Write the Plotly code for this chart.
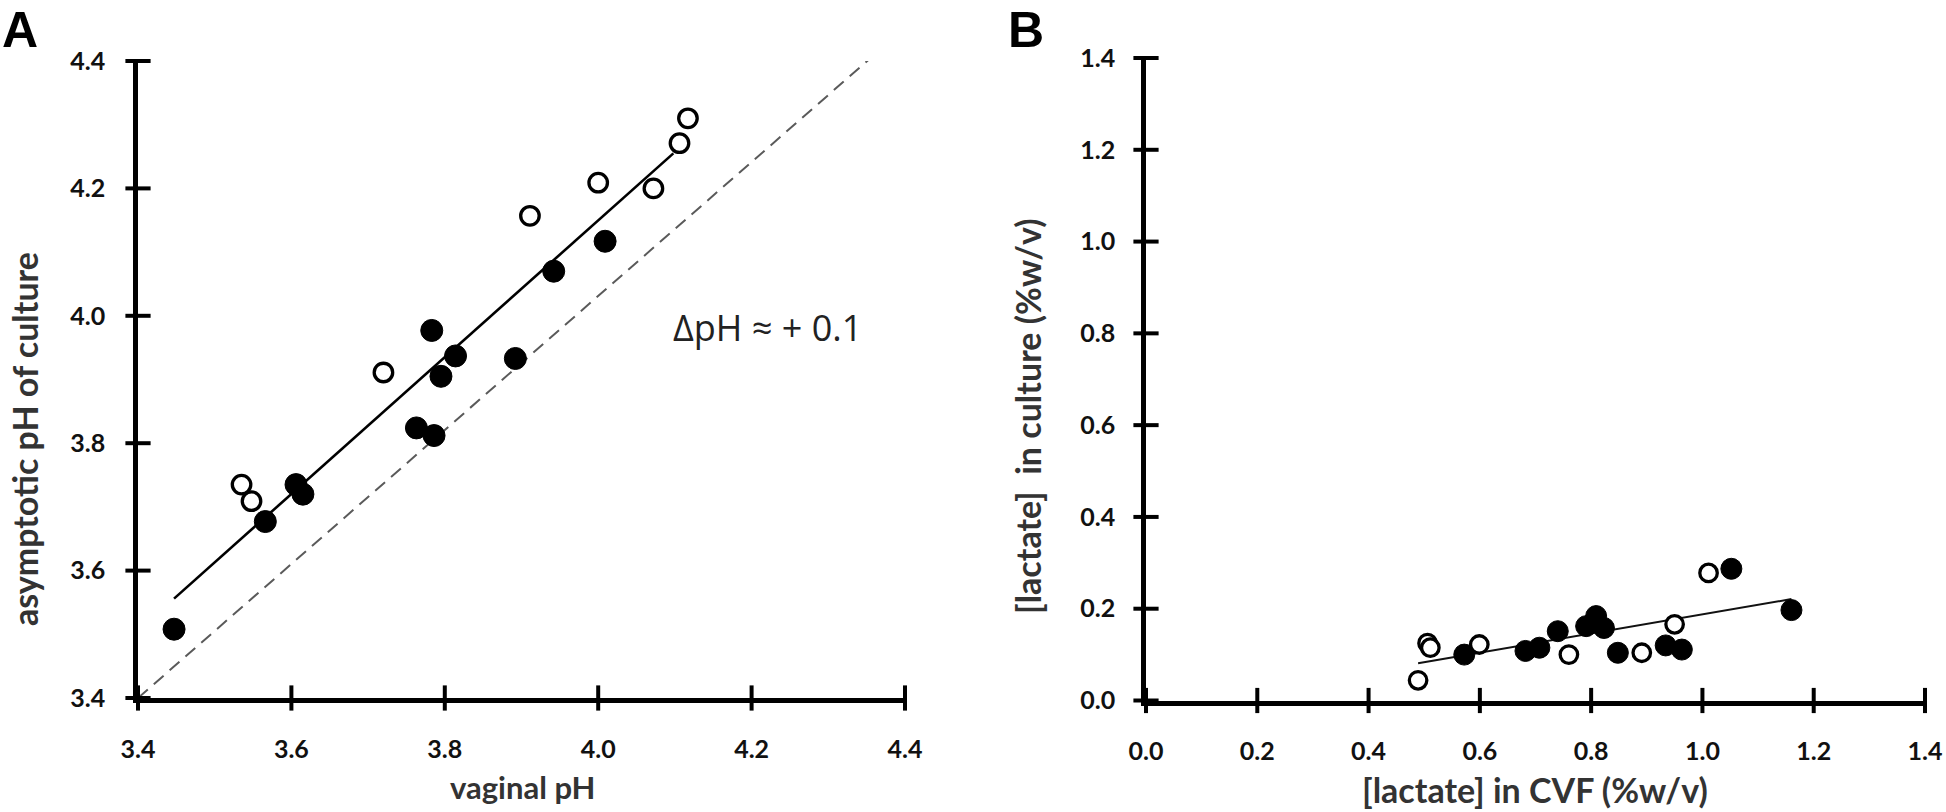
import plotly.graph_objects as go

# ---------------- Panel A data ----------------
a_filled_x = [3.447, 3.566, 3.606, 3.615, 3.763, 3.786, 3.783, 3.795, 3.814, 3.892, 3.942, 4.009]
a_filled_y = [3.508, 3.677, 3.735, 3.720, 3.824, 3.812, 3.977, 3.905, 3.937, 3.933, 4.070, 4.117]
a_open_x = [3.535, 3.548, 3.720, 3.911, 4.000, 4.072, 4.106, 4.117]
a_open_y = [3.735, 3.709, 3.911, 4.157, 4.209, 4.200, 4.271, 4.310]
a_fit_x = [3.447, 4.098]
a_fit_y = [3.556, 4.255]
a_ref_x = [3.4, 4.365]
a_ref_y = [3.4, 4.415]
a_ticks = [3.4, 3.6, 3.8, 4.0, 4.2, 4.4]
a_ticklabels = ["3.4", "3.6", "3.8", "4.0", "4.2", "4.4"]

# ---------------- Panel B data ----------------
b_filled_x = [0.572, 0.682, 0.707, 0.740, 0.791, 0.809, 0.823, 0.848, 0.934, 0.963, 1.052, 1.160]
b_filled_y = [0.100, 0.108, 0.115, 0.151, 0.162, 0.184, 0.158, 0.104, 0.120, 0.111, 0.287, 0.197]
b_open_x = [0.489, 0.506, 0.511, 0.599, 0.760, 0.891, 0.950, 1.011]
b_open_y = [0.044, 0.125, 0.115, 0.122, 0.100, 0.104, 0.166, 0.278]
b_fit_x = [0.489, 1.160]
b_fit_y = [0.081, 0.221]
b_ticks = [0.0, 0.2, 0.4, 0.6, 0.8, 1.0, 1.2, 1.4]
b_ticklabels = ["0.0", "0.2", "0.4", "0.6", "0.8", "1.0", "1.2", "1.4"]

W, H = 1946, 812
FONT = "Lato"
tickfont = dict(family=FONT, size=25, color="#111111", weight="bold")
titlecolor = "#333333"

fig = go.Figure()

# Panel A traces
fig.add_trace(go.Scatter(x=a_ref_x, y=a_ref_y, mode="lines",
                         line=dict(color="#5a5a5a", width=2, dash="13px,8px"),
                         xaxis="x", yaxis="y", hoverinfo="skip", cliponaxis=False))
fig.add_trace(go.Scatter(x=a_fit_x, y=a_fit_y, mode="lines",
                         line=dict(color="black", width=2.6),
                         xaxis="x", yaxis="y", hoverinfo="skip"))
fig.add_trace(go.Scatter(x=a_filled_x, y=a_filled_y, mode="markers",
                         marker=dict(symbol="circle", size=22, color="black",
                                     line=dict(color="black", width=1)),
                         xaxis="x", yaxis="y"))
fig.add_trace(go.Scatter(x=a_open_x, y=a_open_y, mode="markers",
                         marker=dict(symbol="circle", size=18.5, color="white",
                                     line=dict(color="black", width=3.3)),
                         xaxis="x", yaxis="y"))

# Panel B traces
fig.add_trace(go.Scatter(x=b_fit_x, y=b_fit_y, mode="lines",
                         line=dict(color="#111111", width=2),
                         xaxis="x2", yaxis="y2", hoverinfo="skip"))
fig.add_trace(go.Scatter(x=b_filled_x, y=b_filled_y, mode="markers",
                         marker=dict(symbol="circle", size=21, color="black",
                                     line=dict(color="black", width=1)),
                         xaxis="x2", yaxis="y2"))
fig.add_trace(go.Scatter(x=b_open_x, y=b_open_y, mode="markers",
                         marker=dict(symbol="circle", size=17.5, color="white",
                                     line=dict(color="black", width=3.3)),
                         xaxis="x2", yaxis="y2"))

# tick marks crossing the axis lines (drawn at the tick values)
tick_marker_ns = dict(symbol="line-ns", size=18, line=dict(color="black", width=4))
tick_marker_ew = dict(symbol="line-ew", size=18, line=dict(color="black", width=4))
fig.add_trace(go.Scatter(x=a_ticks, y=[a_ticks[0]] * len(a_ticks), mode="markers",
                         marker=tick_marker_ns, xaxis="x", yaxis="y",
                         cliponaxis=False, hoverinfo="skip"))
fig.add_trace(go.Scatter(x=[a_ticks[0]] * len(a_ticks), y=a_ticks, mode="markers",
                         marker=tick_marker_ew, xaxis="x", yaxis="y",
                         cliponaxis=False, hoverinfo="skip"))
fig.add_trace(go.Scatter(x=b_ticks, y=[b_ticks[0]] * len(b_ticks), mode="markers",
                         marker=tick_marker_ns, xaxis="x2", yaxis="y2",
                         cliponaxis=False, hoverinfo="skip"))
fig.add_trace(go.Scatter(x=[b_ticks[0]] * len(b_ticks), y=b_ticks, mode="markers",
                         marker=tick_marker_ew, xaxis="x2", yaxis="y2",
                         cliponaxis=False, hoverinfo="skip"))

# domains (paper fractions)
ax_dom = [138 / W, 905 / W]
ay_dom = [1 - 698 / H, 1 - 61 / H]
bx_dom = [1146 / W, 1925 / W]
by_dom = [1 - 700.5 / H, 1 - 58 / H]

def main_axis(rng, tv, tt, dom, anchor, standoff):
    return dict(range=rng, domain=dom, anchor=anchor, tickmode="array",
                tickvals=tv, ticktext=tt, ticks="outside", ticklen=9,
                tickwidth=4, tickcolor="rgba(0,0,0,0)", showline=True,
                linewidth=4.5, linecolor="black", showgrid=False,
                zeroline=False, tickfont=tickfont, fixedrange=True,
                automargin=False, ticklabelstandoff=standoff)

fig.update_layout(
    width=W, height=H,
    margin=dict(l=0, r=0, t=0, b=0, pad=0, autoexpand=False),
    paper_bgcolor="white", plot_bgcolor="white",
    showlegend=False,
    xaxis=main_axis([3.4, 4.4], a_ticks, a_ticklabels, ax_dom, "y", 16),
    yaxis=main_axis([3.4, 4.4], a_ticks, a_ticklabels, ay_dom, "x", 14),
    xaxis2=main_axis([0, 1.4], b_ticks, b_ticklabels, bx_dom, "y2", 16),
    yaxis2=main_axis([0, 1.4], b_ticks, b_ticklabels, by_dom, "x2", 12),
)

annos = [
    dict(text="A", x=20 / W, y=1.0, xref="paper", yref="paper", yanchor="top",
         font=dict(family="Liberation Sans", size=50, color="black", weight="bold")),
    dict(text="B", x=1026 / W, y=1.0, xref="paper", yref="paper", yanchor="top",
         font=dict(family="Liberation Sans", size=50, color="black", weight="bold")),
    dict(text="vaginal pH", x=522 / W, y=1 - 787 / H, xref="paper", yref="paper",
         font=dict(family=FONT, size=31, color=titlecolor, weight="bold")),
    dict(text="asymptotic pH of culture", x=24 / W, y=1 - 439 / H, xref="paper",
         yref="paper", textangle=-90,
         font=dict(family=FONT, size=34, color=titlecolor, weight="bold")),
    dict(text="ΔpH ≈ + 0.1", x=4.221, y=3.982, xref="x", yref="y",
         font=dict(family="Open Sans", size=36, color="#222222")),
    dict(text="[lactate] in CVF (%w/v)", x=1535 / W, y=1 - 789 / H, xref="paper",
         yref="paper", font=dict(family=FONT, size=34, color=titlecolor, weight="bold")),
    dict(text="[lactate]\u00a0 in culture (%w/v)", x=1027 / W, y=1 - 416 / H,
         xref="paper", yref="paper", textangle=-90,
         font=dict(family=FONT, size=34, color=titlecolor, weight="bold")),
]
for a in annos:
    a.setdefault("yanchor", "middle")
    a.update(showarrow=False, xanchor="center")
fig.update_layout(annotations=annos)

# remove the browser's default 8px body margin so the figure fills the window exactly
fig.write_html("out.html", config={"displayModeBar": False},
               post_script="document.body.style.margin='0';"
                           "document.body.style.overflow='hidden';")
